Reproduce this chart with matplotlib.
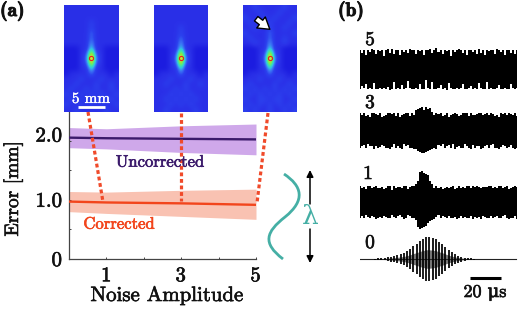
import numpy as np
import matplotlib
matplotlib.use("Agg")
import matplotlib.pyplot as plt
import matplotlib.patheffects as pe
from matplotlib.colors import LinearSegmentedColormap
from matplotlib.path import Path
from matplotlib.patches import PathPatch, FancyArrowPatch
from matplotlib.transforms import ScaledTranslation

W, H = 520, 309
SERIF = ['cmr10', 'DejaVu Serif']
BOLD = ['cmb10', 'DejaVu Serif']
plt.rcParams['font.family'] = SERIF
plt.rcParams['axes.formatter.use_mathtext'] = True

# ---- data -----
NOISE = [0, 1, 3, 5]
UNC_MEAN = [2.05, 2.04, 2.03, 2.02]
UNC_HI = [2.22, 2.20, 2.25, 2.28]
UNC_LO = [1.88, 1.86, 1.80, 1.76]
COR_MEAN = [0.97, 0.955, 0.94, 0.915]
COR_HI = [1.14, 1.13, 1.16, 1.18]
COR_LO = [0.80, 0.77, 0.72, 0.67]
XTICKS = [1, 3, 5]
YTICKS = [0, 1, 2]
YLABELS = ['0', '1.0', '2.0']

HEAT_1 = ["11111111111", "11111111111", "11111111111", "11111211111", "11111211111",
          "11111311111", "11111311111", "11111411111", "00011511000", "00012821000",
          "00013931000", "00012821000", "00011511000", "01111311101", "11121112111",
          "11211121121", "12112121121", "21121212112", "12212121221", "21121212112",
          "11211111211"]
HEAT_2 = ["11111111111", "11111111111", "11111111111", "11111111111", "11111211111",
          "11111211111", "11111311111", "11111411111", "00011511000", "00012821000",
          "00013931000", "00012821000", "00011511000", "01111311101", "11121112111",
          "11211121121", "11112121111", "11121212111", "11212121211", "11121212111",
          "11211111211"]
HEAT_3 = ["11211111211", "11121112111", "21112121112", "12111211121", "11211211211",
          "21111311112", "12111311211", "11211411211", "00011511000", "00012821000",
          "00013931000", "00012821000", "00011511000", "01111311101", "11121112111",
          "12111121121", "21212121212", "12121212121", "21122122112", "12121212121",
          "21211211212"]

# envelope heights of the noisy traces, one base-36 character per sample (pixels above 9)
TRACE5_UP = "a7a5a8ba6a9a4ab7b6aa5a8a7baa6a9a5aab7ac8a6a9a4a8aba7a5aa8a6b7a5a9aa6ba8a5aa7a6a"
TRACE5_LO = "b8a6bab5bbabab9cb4bab7ba3abbab6bb2ab4bba7bac5abbaba6bba8bab5abb4babba7bbabb6aba"
TRACE3_UP = "8685648876845688785846788586bcdebecd9687856846787568885866788678687564878687685"
TRACE3_LO = "9769577a7986799a85979a57699aacdeedcba9a67597695a8799579a6977a97696599a8679869a9"
TRACE1_UP = "75647756755645773756657746779clmkjic9575645656745756577576765666775657756745676"
TRACE1_LO = "75746756876756774675468745779gihgfca98647567577687576775867685677576577547877587"
BURST_AMP = [0.5, 0.7, 1, 1.3, 1.8, 2.5, 3, 4, 5, 6, 8, 10, 13, 15, 18, 20, 22, 22, 21, 20, 17, 15, 12, 9, 7, 5, 3.5, 2.5, 1.5, 1, 0.7, 0.5]
TRACE_LABELS = ['5', '3', '1', '0']

TEAL = '#45AFA5'
PURPLE = '#3B1A6B'
ORANGE = '#F2451C'
INK = '#111111'

fig = plt.figure(figsize=(W/100, H/100), dpi=100)


def rect(x0, y0, x1, y1):
    return [x0/W, 1-y1/H, (x1-x0)/W, (y1-y0)/H]


def heavy(t, width=0.45):
    t.set_path_effects([pe.withStroke(linewidth=width, foreground=t.get_color())])
    return t


# ---- main chart ----
ax = fig.add_axes(rect(69, 111, 256, 259))
ax.set_facecolor('none')
ax.set_xlim(0, 5)
ax.set_ylim(0, 2.5)
ax.fill_between(NOISE, UNC_LO, UNC_HI, color='#CFA8EA', lw=0)
ax.fill_between(NOISE, COR_LO, COR_HI, color='#F9C2B2', lw=0)
ax.plot(NOISE, UNC_MEAN, color=PURPLE, lw=1.7, solid_capstyle='butt', zorder=3)
ax.plot(NOISE, COR_MEAN, color=ORANGE, lw=1.7, solid_capstyle='butt', zorder=3)
for s in ('top', 'right'):
    ax.spines[s].set_visible(False)
for s in ('left', 'bottom'):
    ax.spines[s].set_color('#444444')
    ax.spines[s].set_linewidth(0.9)
ax.set_xticks(XTICKS)
ax.set_xticks([2, 4], minor=True)
ax.set_yticks(YTICKS)
ax.set_yticklabels(YLABELS)
ax.set_yticks([0.5, 1.5, 2.5], minor=True)
ax.tick_params(which='both', direction='in', length=1.5, width=0.7, color='#444444')
ax.tick_params(axis='x', labelsize=15, pad=6, labelcolor=INK)
ax.tick_params(axis='y', labelsize=15, pad=5, labelcolor=INK)
for t in ax.get_xticklabels() + ax.get_yticklabels():
    heavy(t)
lab2 = ax.get_yticklabels()[2]
lab2.set_transform(lab2.get_transform() + ScaledTranslation(0, 6/100, fig.dpi_scale_trans))

# ---- overlay in pixel coordinates ----
ov = fig.add_axes([0, 0, 1, 1], facecolor='none', zorder=5)
ov.set_xlim(0, W)
ov.set_ylim(H, 0)
ov.axis('off')

heavy(ov.text(167, 296, 'Noise Amplitude', fontsize=15, ha='center', va='center', color=INK))
heavy(ov.text(13, 189, 'Error [mm]', fontsize=14, rotation=90, ha='center', va='center', color=INK))
heavy(ov.text(160, 162, 'Uncorrected', fontsize=12, ha='center', va='center', color=PURPLE))
heavy(ov.text(119, 224, 'Corrected', fontsize=12, ha='center', va='center', color=ORANGE))
heavy(ov.text(0, 11, '(a)', fontsize=14, family=BOLD, ha='left', va='center', color=INK), 0.7)
heavy(ov.text(338, 11, '(b)', fontsize=14, family=BOLD, ha='left', va='center', color=INK), 0.7)

for (x0, y0, x1, y1) in [(88, 112, 103, 202), (181, 113, 181, 201), (268, 113, 257, 203)]:
    ov.plot([x0, x1], [y0, y1], color='#F04A2A', lw=2.3, dashes=(1.2, 0.85))

# heat maps
cmap = LinearSegmentedColormap.from_list('hm', ['#1c1ce0', '#2a30e8', '#2c42ee', '#3a74f4', '#30c0e8',
                                                '#40e8a0', '#90e840', '#f0e030', '#f09020', '#e82020'])
for (x0, rows) in [(64, HEAT_1), (154, HEAT_2), (243, HEAT_3)]:
    hm = fig.add_axes(rect(x0, 5, x0+54, 112), zorder=4)
    arr = np.array([[int(c) for c in r] for r in rows], dtype=float)
    hm.imshow(arr, cmap=cmap, vmin=0, vmax=9, aspect='auto', interpolation='bicubic')
    hm.axis('off')
    ov.plot([x0+27], [57.5], 'o', mfc='none', mec='#e82020', ms=3, mew=0.8)

heavy(ov.text(91, 99, '5 mm', fontsize=11, color='white', ha='center', va='center'), 0.3)
ov.plot([78, 105], [106.5, 106.5], color='white', lw=2, solid_capstyle='butt')
ov.add_patch(FancyArrowPatch((254, 17), (272, 31), arrowstyle='simple,head_width=10,head_length=8,tail_width=4',
                             fc='white', ec='black', lw=1.0, mutation_scale=1))

# wave + lambda
wave = Path([(284, 174), (302, 186), (306, 200), (285, 217), (266, 232), (262, 243), (283, 259)],
            [Path.MOVETO, Path.CURVE4, Path.CURVE4, Path.CURVE4, Path.CURVE4, Path.CURVE4, Path.CURVE4])
ov.add_patch(PathPatch(wave, fc='none', ec=TEAL, lw=2.0))
ov.annotate('', xy=(310, 170), xytext=(310, 204), arrowprops=dict(arrowstyle='-|>', color='black', lw=1.1, shrinkA=0, shrinkB=0, mutation_scale=10))
ov.annotate('', xy=(310, 263), xytext=(310, 229), arrowprops=dict(arrowstyle='-|>', color='black', lw=1.1, shrinkA=0, shrinkB=0, mutation_scale=10))
ov.text(310, 216, 'λ', fontsize=19, family='DejaVu Serif', color=TEAL, ha='center', va='center')

# ---- waveforms ----
wf = fig.add_axes(rect(360, 30, 518, 290), facecolor='none', zorder=6)
PX_PER_US = 1.55
wf.set_xlim(0, 158/PX_PER_US)
wf.set_ylim(290, 30)
wf.axis('off')
for up, lo, cy in [(TRACE5_UP, TRACE5_LO, 69), (TRACE3_UP, TRACE3_LO, 130), (TRACE1_UP, TRACE1_LO, 202)]:
    n = min(len(up), len(lo))
    u = np.array([9 + int(c, 36) for c in up[:n]], dtype=float)
    l = np.array([9 + int(c, 36) for c in lo[:n]], dtype=float)
    t = np.linspace(0, 157/PX_PER_US, n)
    wf.fill_between(t, cy-u, cy+l, color='black', lw=0, step='mid')
t0 = (375-360)/PX_PER_US + np.arange(len(BURST_AMP))*3.2/PX_PER_US
amp = np.array(BURST_AMP)
wf.plot([0, 156/PX_PER_US], [259, 259], color='#222222', lw=0.8)
wf.vlines(t0, 259-amp, 259+amp, color='black', lw=1.25)
wf.fill_between(t0, 259-amp*0.42, 259+amp*0.42, color='#777777', lw=0)
bar_x = (470-360)/PX_PER_US
wf.plot([bar_x, bar_x+20], [278, 278], color='black', lw=2.2, solid_capstyle='butt')
for lab, (x, y) in zip(TRACE_LABELS, [(370, 40), (370, 103), (368, 174), (370, 243)]):
    heavy(ov.text(x, y, lab, fontsize=14, ha='center', va='center', color=INK))
heavy(ov.text(485, 293, '20 μs', fontsize=13, ha='center', va='center', color=INK))

fig.savefig('out.png', dpi=100)
